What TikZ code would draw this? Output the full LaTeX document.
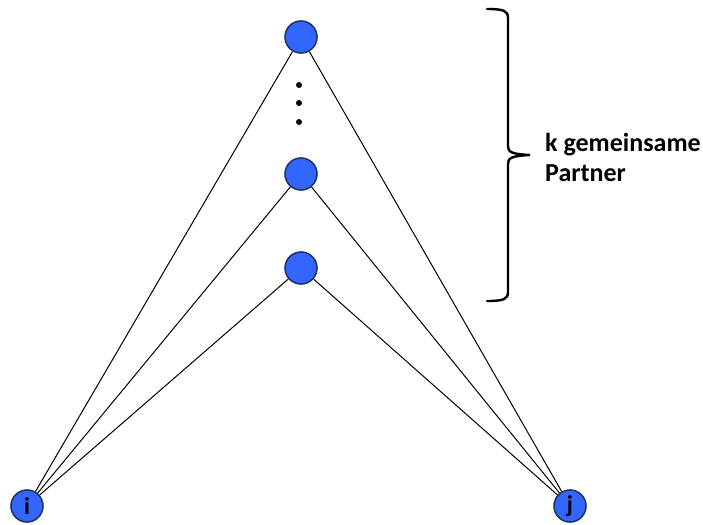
\documentclass[tikz,border=0pt]{standalone}
\usepackage{fontspec}
\setmainfont{Carlito}
\begin{document}
\begin{tikzpicture}[x=1pt,y=-1pt,
  vertex/.style={circle,draw=vborder,fill=vfill,line width=1.6pt,minimum size=32pt,inner sep=0pt,
                 font=\fontsize{24}{28}\selectfont\bfseries},
  link/.style={line width=1pt,black},
  dot/.style={circle,fill=black,minimum size=6pt,inner sep=0pt},
  bracket/.style={line width=2.4pt,black,line cap=round},
  caption/.style={anchor=base west,font=\fontsize{26}{30}\selectfont\bfseries,inner sep=0pt}]
\definecolor{vfill}{HTML}{3366FF}
\definecolor{vborder}{HTML}{1F3864}
\useasboundingbox (0,0) rectangle (703,524);

% shared partners and the two end vertices
\node[vertex] (top) at (301,37) {};
\node[vertex] (mid) at (301,174) {};
\node[vertex] (low) at (301,268) {};
\node[vertex] (i) at (27,506) {i};
\node[vertex] (j) at (570,506) {j};

% vertical ellipsis
\node[dot] (d1) at (299,85) {};
\node[dot] (d2) at (299,103) {};
\node[dot] (d3) at (299,122) {};

% connections to each partner
\foreach \p in {top,mid,low}{
  \draw[link] (i) -- (\p);
  \draw[link] (j) -- (\p);
}

% curly brace over the partners
\draw[bracket] (487,9) .. controls (504,9) and (508,11) .. (508,18) -- (508,146)
  .. controls (508,152) and (511,154) .. (530,155)
  .. controls (511,156) and (508,158) .. (508,164) -- (508,292)
  .. controls (508,299) and (504,301) .. (487,301);

\node[caption] (lbl1) at (545,151) {k gemeinsame};
\node[caption] (lbl2) at (545,181) {Partner};
\end{tikzpicture}
\end{document}
